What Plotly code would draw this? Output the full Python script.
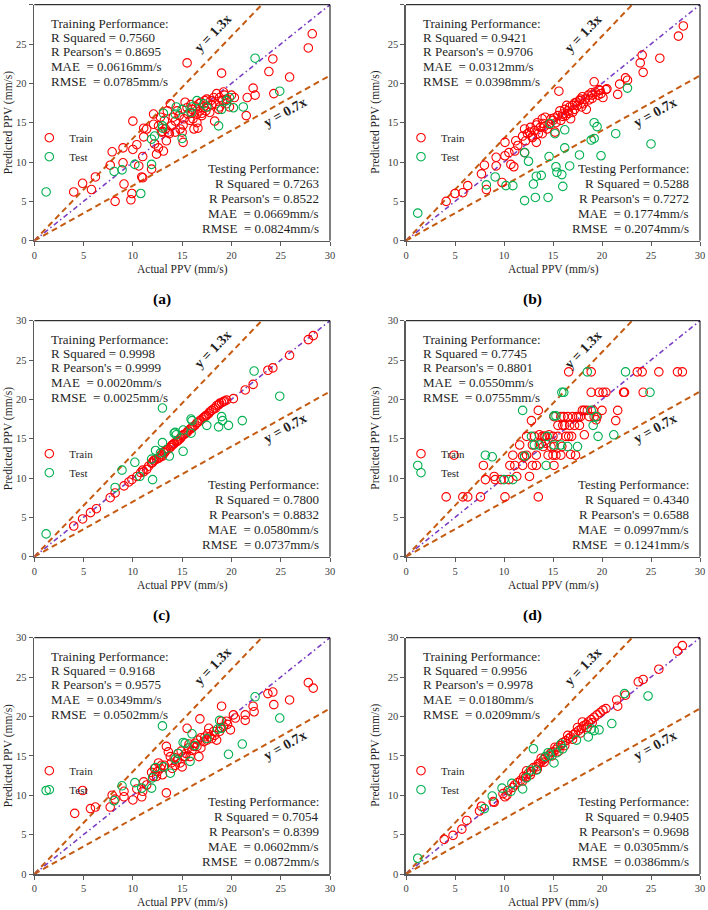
import plotly.graph_objects as go

# ---------------- data (actual PPV, predicted PPV) ----------------
a_train = [(4.0,6.2),(4.9,7.3),(5.8,6.5),(6.2,8.1),(7.7,9.6),(7.9,11.3),(8.2,5.0),(9.0,11.8),(9.0,9.9),(9.1,7.2),
           (9.8,5.2),(9.9,6.0),(10.0,15.2),(10.0,11.6),(10.4,12.2),(10.6,9.5),(10.9,8.1),(11.0,8.0),(11.0,10.7),(11.1,13.2),
           (11.1,14.3),(11.4,14.2),(11.9,9.1),(12.1,14.8),(12.1,16.1),(12.2,12.3),(12.4,11.0),(12.6,11.8),(12.8,15.7),(12.9,13.8),
           (13.1,11.4),(13.2,15.3),(13.3,14.2),(13.4,12.7),(13.5,16.5),(13.6,13.8),(13.7,13.6),(13.8,17.4),(13.9,14.6),(14.1,15.7),
           (14.3,13.8),(14.5,16.5),(14.8,14.2),(15.0,13.8),(15.1,12.5),(15.1,14.7),(15.2,15.5),(15.3,17.6),(15.5,22.6),(15.6,16.1),
           (15.8,15.3),(16.0,16.7),(16.1,15.5),(16.2,14.2),(16.4,17.0),(16.5,16.1),(16.6,14.3),(16.7,17.4),(16.8,16.5),(17.0,15.9),
           (17.2,17.0),(17.3,17.8),(17.4,16.5),(17.6,17.0),(17.8,16.3),(17.9,17.8),(18.2,18.2),(18.3,15.2),(18.4,17.4),(18.5,18.7),
           (18.7,16.7),(18.8,18.2),(19.0,21.3),(19.1,17.8),(19.3,18.5),(19.5,18.0),(19.8,17.0),(20.0,18.5),(20.3,18.2),(21.5,15.9),
           (21.6,18.2),(22.2,19.4),(22.4,18.5),(23.8,21.5),(24.2,23.1),(24.3,18.7),(25.9,20.8),(27.8,24.5),(28.2,26.3),
           (12.6,14.6),(13.0,13.9),(14.3,15.2),(15.5,16.9),(16.0,16.2),(16.5,15.0),(17.0,16.2),(18.0,17.3),(18.8,17.0),(19.5,17.4),
           (14.7,15.9),(15.9,17.3),(17.5,18.0),(16.9,17.6),(19.2,18.9)]
a_test = [(1.2,6.2),(8.1,8.8),(8.9,9.0),(10.2,9.7),(10.8,6.0),(11.9,9.7),(11.9,12.9),(12.2,13.3),(13.0,14.6),(13.1,16.2),
          (14.3,16.1),(14.4,17.0),(15.0,13.0),(15.0,16.7),(16.0,17.0),(16.5,17.8),(17.2,17.4),(17.5,17.0),(18.7,14.6),(19.0,16.7),
          (19.5,17.8),(19.8,18.2),(20.2,16.9),(21.2,17.0),(22.4,23.2),(24.9,19.0),(15.9,16.3),(13.0,14.3)]

b_train = [(4.1,5.0),(5.0,6.0),(5.8,6.1),(6.3,7.0),(7.7,8.5),(8.0,9.6),(8.2,6.5),(9.2,9.5),(9.2,10.6),(9.8,7.4),
           (10.1,12.5),(10.1,10.8),(10.5,11.2),(10.7,9.7),(11.0,9.4),(11.1,11.4),(11.2,12.7),(11.4,12.1),(11.9,13.3),(12.1,11.2),
           (12.1,14.2),(12.2,12.7),(12.4,13.6),(12.6,13.8),(12.7,14.4),(12.9,13.1),(13.1,14.0),(13.3,12.5),(13.4,15.0),(13.5,13.6),
           (13.7,14.4),(13.9,15.5),(13.9,13.6),(14.1,14.5),(14.4,14.2),(14.6,14.8),(14.8,15.5),(15.0,15.3),(15.2,13.8),(15.5,15.9),
           (15.6,19.0),(15.7,16.5),(15.8,15.3),(16.0,16.1),(16.2,16.7),(16.3,15.9),(16.5,16.5),(16.7,17.0),(16.8,15.5),(17.0,16.3),
           (17.0,17.2),(17.2,16.7),(17.4,17.6),(17.5,17.2),(17.7,17.8),(17.9,17.0),(18.1,17.4),(18.3,18.0),(18.4,16.7),(18.6,18.5),
           (18.7,17.9),(19.0,18.5),(19.2,20.2),(19.3,18.9),(19.6,18.5),(19.8,19.1),(19.9,18.7),(20.1,18.2),(20.4,19.2),(20.5,19.3),
           (21.6,18.6),(21.8,19.9),(22.4,20.7),(22.6,20.4),(23.9,22.6),(24.1,23.6),(24.2,21.4),(25.9,23.2),(27.8,26.0),(28.3,27.3),
           (12.9,13.3),(13.3,14.7),(14.2,15.7),(15.3,15.0),(16.0,15.8),(16.4,17.2),(17.2,17.5),(18.0,18.3),(19.0,18.1),(19.7,19.2),
           (14.0,14.9),(15.1,15.6),(16.6,16.2),(17.8,18.0),(18.9,18.8)]
b_test = [(1.2,3.5),(8.2,7.1),(9.1,8.1),(10.2,7.0),(10.9,7.0),(12.1,11.2),(12.5,10.1),(12.1,5.1),(13.0,7.2),(13.3,8.2),
          (13.8,8.3),(13.2,5.5),(14.5,5.5),(14.6,10.7),(14.7,14.9),(15.2,13.6),(15.3,9.4),(15.4,8.7),(15.9,8.4),(16.0,6.9),
          (16.2,11.8),(16.2,14.1),(16.7,9.5),(17.7,10.9),(18.9,12.8),(19.2,13.0),(19.2,15.0),(19.5,14.5),(19.9,10.8),(21.4,13.6),
          (22.6,19.4),(25.0,12.3)]

c_train = [(4.0,3.9),(4.9,4.8),(5.7,5.6),(6.3,6.1),(7.7,7.5),(8.2,8.1),(9.1,9.0),(9.9,9.8),(10.4,10.2),(11.1,10.8),
           (11.4,11.1),(11.9,11.9),(12.2,12.3),(12.8,12.7),(13.2,13.2),(13.4,13.6),(13.8,13.9),(14.1,14.3),(14.4,14.6),(14.8,15.0),
           (15.1,15.5),(15.5,15.8),(15.8,16.2),(16.1,16.5),(16.5,17.0),(16.8,17.3),(17.2,17.7),(17.5,18.0),(17.8,18.4),(18.2,18.8),
           (18.5,19.2),(18.8,19.5),(19.2,19.7),(19.5,19.9),(20.2,20.1),(21.4,21.2),(22.2,21.9),(23.7,23.7),(24.2,24.0),(25.9,25.6),
           (27.8,27.6),(28.3,28.1),
           (11.0,11.0),(11.6,11.5),(12.0,12.0),(12.4,12.4),(12.6,12.5),(12.9,13.0),(13.0,12.8),(13.3,13.4),(13.6,13.7),(13.9,14.1),
           (14.2,14.4),(14.6,14.8),(14.9,15.2),(15.3,15.6),(15.6,16.0),(15.9,16.3),(16.3,16.7),(16.6,17.1),(17.0,17.5),(17.3,17.8),
           (17.7,18.2),(18.0,18.6),(18.4,18.9),(18.7,19.3),(19.0,19.6),(19.3,19.8),(12.1,12.2),(14.0,14.2),(15.0,15.4),(16.0,16.4),
           (17.4,17.9),(10.8,10.7),(9.6,9.5),(13.1,13.3),(14.5,14.7)]
c_test = [(1.2,2.9),(8.2,8.8),(8.9,11.0),(10.2,12.0),(10.7,10.2),(12.0,9.8),(11.9,12.4),(12.3,13.5),(13.0,18.9),(13.0,14.5),
          (12.8,13.2),(13.7,12.8),(14.3,15.8),(14.4,15.5),(15.1,13.4),(15.1,16.1),(15.9,17.5),(16.0,17.3),(15.9,15.7),(17.5,16.7),
          (18.7,16.5),(19.0,17.8),(19.1,17.3),(19.7,16.7),(21.1,17.3),(22.3,23.6),(24.9,20.4),(14.2,15.7)]

d_train = [(4.1,7.6),(4.9,12.9),(5.8,7.6),(6.3,7.6),(7.6,7.6),(7.9,11.6),(8.1,9.8),(9.0,10.2),(9.1,9.8),(9.7,9.8),
           (10.1,7.6),(10.5,9.8),(10.6,11.6),(10.9,12.9),(11.1,11.6),(11.3,10.2),(11.6,14.2),(11.9,12.8),(11.9,11.6),(12.1,12.7),
           (12.3,15.3),(12.6,10.2),(12.8,17.3),(12.9,11.6),(12.9,14.2),(13.1,15.3),(13.3,12.9),(13.5,18.6),(13.5,7.6),(13.6,15.5),
           (13.8,14.4),(14.0,14.0),(14.1,15.3),(14.3,14.4),(14.5,12.9),(14.6,15.5),(14.8,14.0),(15.0,15.3),(15.1,11.6),(15.1,14.0),
           (15.3,12.9),(15.5,15.3),(15.5,16.7),(15.8,12.9),(15.9,14.0),(16.0,16.7),(16.1,17.8),(16.3,15.3),(16.5,17.8),(16.6,23.5),
           (16.7,16.7),(16.8,13.0),(16.9,15.3),(17.0,17.8),(17.2,16.7),(17.3,12.9),(17.4,17.8),(17.7,16.7),(17.8,17.8),(18.2,18.6),
           (18.2,15.5),(18.5,18.6),(18.7,17.8),(18.9,23.5),(18.9,20.9),(19.1,18.6),(19.4,17.4),(19.5,17.8),(19.7,20.9),(20.0,18.6),
           (20.1,20.9),(20.4,20.9),(21.4,17.3),(21.6,18.6),(22.2,20.9),(22.3,20.9),(23.6,23.5),(24.1,23.5),(24.2,20.9),(25.8,23.5),
           (27.7,23.5),(28.2,23.5),
           (12.3,12.9),(13.3,11.6),(15.0,12.9),(15.1,17.8),(15.8,17.8),(14.2,15.3),(16.2,16.7),(17.6,17.8),(18.0,18.6),(19.2,17.8),
           (13.9,15.3),(16.6,15.3)]
d_test = [(1.2,11.6),(8.1,12.9),(8.8,12.7),(10.0,9.8),(10.9,9.8),(11.9,18.6),(12.1,12.8),(12.8,15.3),(13.1,14.2),(13.6,14.2),
          (14.3,11.6),(14.4,15.3),(15.1,17.9),(15.3,17.9),(15.1,14.2),(15.8,14.2),(15.9,20.9),(16.1,20.9),(16.5,14.0),(17.5,14.0),
          (18.5,23.5),(18.9,18.6),(19.1,16.7),(19.4,17.8),(19.6,15.3),(21.2,15.5),(22.4,23.5),(24.9,20.9)]

e_train = [(4.1,7.7),(4.9,10.6),(5.7,8.3),(6.2,8.5),(7.7,8.5),(7.9,10.0),(8.2,9.5),(9.1,9.8),(9.1,10.5),(10.0,9.4),
           (10.4,10.8),(10.9,9.8),(11.0,10.5),(11.1,11.7),(11.4,11.3),(11.9,12.9),(12.1,12.4),(12.2,13.4),(12.4,12.4),(12.6,14.1),
           (12.8,13.4),(12.9,13.8),(13.4,10.3),(13.4,16.2),(13.6,15.5),(13.8,14.9),(13.9,14.1),(14.0,13.4),(14.3,13.8),(14.5,14.5),
           (14.6,15.3),(14.8,14.1),(15.0,13.6),(15.1,14.9),(15.3,14.9),(15.5,18.5),(15.6,16.0),(15.8,14.9),(16.0,15.7),(16.2,16.2),
           (16.5,16.2),(16.6,17.0),(16.7,14.9),(16.8,19.7),(16.9,16.0),(17.2,16.8),(17.3,17.4),(17.5,17.0),(17.7,18.5),(17.8,17.4),
           (18.2,18.1),(18.3,17.6),(18.5,17.0),(18.8,18.1),(19.0,21.3),(19.0,19.4),(19.2,18.7),(19.5,19.4),(19.9,18.3),(20.2,20.2),
           (20.4,19.8),(21.4,20.2),(21.4,19.5),(22.2,21.3),(22.3,20.6),(23.7,22.9),(24.2,23.1),(24.3,21.5),(25.9,22.1),(27.8,24.3),
           (28.3,23.6),
           (12.5,13.0),(13.2,13.8),(14.2,14.8),(14.9,15.6),(15.4,15.3),(16.3,16.6),(16.9,17.3),(17.6,17.8),(18.0,17.2),(18.9,18.6),
           (19.6,19.0),(13.0,12.6),(15.7,16.5)]
e_test = [(1.2,10.6),(8.1,9.3),(8.9,11.2),(10.2,11.6),(10.9,10.9),(11.9,10.9),(12.0,12.2),(13.0,18.8),(13.1,13.6),(13.8,12.8),
          (14.6,15.3),(15.1,16.7),(15.3,16.6),(15.8,14.3),(16.0,17.8),(17.5,17.2),(18.8,19.5),(19.0,18.5),(19.7,15.2),(21.1,16.5),
          (22.4,22.5),(24.9,19.8),(12.3,13.5),(14.3,14.6),(16.3,16.3),(18.6,18.4)]

f_train = [(3.9,4.4),(4.8,4.9),(5.7,5.7),(6.2,6.8),(7.5,8.0),(7.7,8.6),(8.9,9.2),(9.0,9.1),(9.9,10.2),(10.1,9.8),
           (10.3,10.0),(10.4,10.6),(10.9,11.0),(11.1,11.3),(11.4,11.6),(11.7,11.9),(12.0,12.4),(12.2,12.3),(12.5,12.8),(12.8,13.0),
           (13.0,13.5),(13.3,13.6),(13.5,14.0),(13.7,14.1),(14.0,14.5),(14.2,14.7),(14.5,15.0),(14.8,15.4),(15.0,15.5),(15.3,15.8),
           (15.5,16.1),(15.8,16.3),(16.0,16.7),(16.3,16.9),(16.6,17.2),(16.8,17.4),(17.1,17.7),(17.3,17.9),(17.6,18.2),(17.9,18.5),
           (18.1,18.8),(18.4,19.0),(18.6,19.3),(18.9,19.6),(19.2,19.9),(19.5,20.2),(19.8,20.5),(20.1,20.8),(20.4,21.0),(21.5,22.1),
           (21.6,21.3),(22.4,22.7),(23.7,24.4),(24.2,24.7),(25.8,26.0),(27.7,28.3),(28.2,29.0),
           (11.9,11.8),(12.7,12.6),(13.4,13.3),(14.1,14.2),(14.9,15.0),(15.6,15.6),(16.2,16.3),(17.0,17.1),(17.8,17.9),(18.5,18.6),
           (19.0,19.2),(18.0,19.3),(17.5,18.6),(16.5,17.6),(15.2,16.1),(13.8,14.7),(12.3,13.1)]
f_test = [(1.2,2.0),(8.0,8.3),(8.8,9.9),(9.8,10.9),(10.7,10.5),(11.9,10.8),(12.7,13.2),(13.3,13.2),(13.0,15.9),(14.2,14.9),
          (14.7,15.1),(15.1,14.1),(15.4,15.4),(15.8,16.5),(16.0,15.9),(17.4,17.0),(18.6,17.4),(18.9,18.4),(19.2,18.2),(19.7,18.3),
          (21.0,19.1),(22.3,22.9),(24.7,22.6),(10.8,11.5),(12.3,12.2),(14.5,15.4)]

# metrics: R2, Pearson, MAE, RMSE (train) / (test)
train_stats = [("0.7560","0.8695","0.0616","0.0785"), ("0.9421","0.9706","0.0312","0.0398"),
               ("0.9998","0.9999","0.0020","0.0025"), ("0.7745","0.8801","0.0550","0.0755"),
               ("0.9168","0.9575","0.0349","0.0502"), ("0.9956","0.9978","0.0180","0.0209")]
test_stats = [("0.7263","0.8522","0.0669","0.0824"), ("0.5288","0.7272","0.1774","0.2074"),
              ("0.7800","0.8832","0.0580","0.0737"), ("0.4340","0.6588","0.0997","0.1241"),
              ("0.7054","0.8399","0.0602","0.0872"), ("0.9405","0.9698","0.0305","0.0386")]
panel_labels = ["(a)", "(b)", "(c)", "(d)", "", ""]
ref_slopes = [1.3, 1.0, 0.7]
tick_vals = [0, 5, 10, 15, 20, 25, 30]

panels = [(a_train, a_test), (b_train, b_test), (c_train, c_test),
          (d_train, d_test), (e_train, e_test), (f_train, f_test)]

# ---------------- layout geometry (pixels) ----------------
W, H = 708, 910
cols = [(34.3, 330.0), (406.0, 700.0)]
rows = [(4.7, 240.7), (320.7, 556.7), (637.7, 874.0)]
SERIF = "Liberation Serif, Times New Roman, serif"
RED, GREEN = "#FF0000", "#00B050"
ORANGE, PURPLE = "#C55A11", "#7B3FC4"
TXT = "#1f1f1f"

fig = go.Figure()
annotations = []
shapes = []
layout = {}

for i, (tr, te) in enumerate(panels):
    n = i + 1
    sx = "" if n == 1 else str(n)
    xa, ya = "x" + sx, "y" + sx
    r, c = divmod(i, 2)
    px0, px1 = cols[c]
    py0, py1 = rows[r]
    axis_common = dict(range=[0, 30], tickvals=tick_vals, showgrid=False, zeroline=False, automargin=False,
                       showline=True, linecolor="#595959", linewidth=1.6,
                       ticks="outside", ticklen=4, tickcolor="#595959", tickwidth=1,
                       tickfont=dict(family=SERIF, size=10.5, color="#404040"), fixedrange=True)
    layout["xaxis" + sx] = dict(domain=[px0 / W, px1 / W], anchor=ya, **axis_common)
    layout["yaxis" + sx] = dict(domain=[1 - py1 / H, 1 - py0 / H], anchor=xa, **axis_common)

    # reference lines y = k x
    lx = [0, 30]
    for k in ref_slopes:
        fig.add_trace(go.Scatter(
            x=lx, y=[k * v for v in lx], mode="lines", xaxis=xa, yaxis=ya, showlegend=False,
            line=dict(color=PURPLE if k == 1.0 else ORANGE, width=1.6 if k == 1.0 else 2,
                      dash="5px,3px,1.5px,3px" if k == 1.0 else "6px,4px"),
            hoverinfo="skip"))

    leg = "legend" + sx
    fig.add_trace(go.Scatter(
        x=[p[0] for p in tr], y=[p[1] for p in tr], mode="markers", name="Train",
        xaxis=xa, yaxis=ya, legend=leg,
        marker=dict(symbol="circle-open", size=8.5, color=RED, line=dict(width=1.1))))
    fig.add_trace(go.Scatter(
        x=[p[0] for p in te], y=[p[1] for p in te], mode="markers", name="Test",
        xaxis=xa, yaxis=ya, legend=leg,
        marker=dict(symbol="circle-open", size=8.5, color=GREEN, line=dict(width=1.1))))

    layout[leg] = dict(x=(px0 - 5) / W, xanchor="left", y=1 - (py0 + 142.5) / H, yanchor="middle",
                       bgcolor="rgba(0,0,0,0)", borderwidth=0, tracegroupgap=0,
                       font=dict(family=SERIF, size=11, color=TXT))

    # box top/right border
    shapes.append(dict(type="line", xref=xa + " domain", yref=ya + " domain",
                       x0=0, x1=1, y0=1, y1=1, line=dict(color="#000000", width=1)))
    shapes.append(dict(type="line", xref=xa + " domain", yref=ya + " domain",
                       x0=1, x1=1, y0=0, y1=1, line=dict(color="#000000", width=1)))

    # stats text
    s = train_stats[i]
    tr_lines = ["Training Performance:", f"R Squared = {s[0]}", f"R Pearson's = {s[1]}",
                f"MAE\u00a0 = {s[2]}mm/s", f"RMSE\u00a0 = {s[3]}mm/s"]
    tr_y = [27.65, 25.83, 24.0, 22.12, 20.2]
    for t, yy in zip(tr_lines, tr_y):
        annotations.append(dict(text=t, x=1.52, y=yy, xref=xa, yref=ya, xanchor="left", yanchor="middle",
                                showarrow=False, font=dict(family=SERIF, size=13, color=TXT)))
    s = test_stats[i]
    te_lines = ["Testing Performance:", f"R Squared = {s[0]}", f"R Pearson's = {s[1]}",
                f"MAE\u00a0 = {s[2]}mm/s", f"RMSE\u00a0 = {s[3]}mm/s"]
    te_y = [9.2, 7.25, 5.4, 3.47, 1.55]
    for t, yy in zip(te_lines, te_y):
        annotations.append(dict(text=t, x=29.05, y=yy, xref=xa, yref=ya, xanchor="right", yanchor="middle",
                                showarrow=False, font=dict(family=SERIF, size=13, color=TXT)))

    # line labels
    annotations.append(dict(text="<b>y = 1.3x</b>", x=18.1, y=26.3, xref=xa, yref=ya, textangle=-46,
                            showarrow=False, font=dict(family=SERIF, size=14, color=TXT)))
    annotations.append(dict(text="<b>y = 0.7x</b>", x=25.4, y=16.3, xref=xa, yref=ya, textangle=-29,
                            showarrow=False, font=dict(family=SERIF, size=14, color=TXT)))

    # axis titles
    annotations.append(dict(text="Actual PPV (mm/s)", x=(px0 + px1) / 2 / W, y=1 - (py1 + 28.7) / H,
                            xref="paper", yref="paper", xanchor="center", yanchor="middle", showarrow=False,
                            font=dict(family=SERIF, size=11.5, color=TXT)))
    annotations.append(dict(text="Predicted PPV (mm/s)", x=(px0 - (25.8 if c == 0 else 30)) / W,
                            y=1 - (py0 + py1) / 2 / H, xref="paper", yref="paper", textangle=-90,
                            xanchor="center", yanchor="middle", showarrow=False,
                            font=dict(family=SERIF, size=11.5, color=TXT)))
    if panel_labels[i]:
        annotations.append(dict(text="<b>" + panel_labels[i] + "</b>", x=(px0 + px1) / 2 / W - 20.5 / W,
                                y=1 - (py1 + 58.5) / H, xref="paper", yref="paper",
                                xanchor="center", yanchor="middle", showarrow=False,
                                font=dict(family=SERIF, size=15.5, color="#000000")))

fig.update_layout(**layout)
fig.update_layout(width=W, height=H, margin=dict(l=0, r=0, t=0, b=0, autoexpand=False),
                  paper_bgcolor="white", plot_bgcolor="white",
                  annotations=annotations, shapes=shapes, hovermode=False)
fig.write_html("out.html", config={"displayModeBar": False, "staticPlot": True},
               post_script="document.body.style.margin='0';document.body.style.padding='0';"
                           "document.body.style.overflow='hidden';")
